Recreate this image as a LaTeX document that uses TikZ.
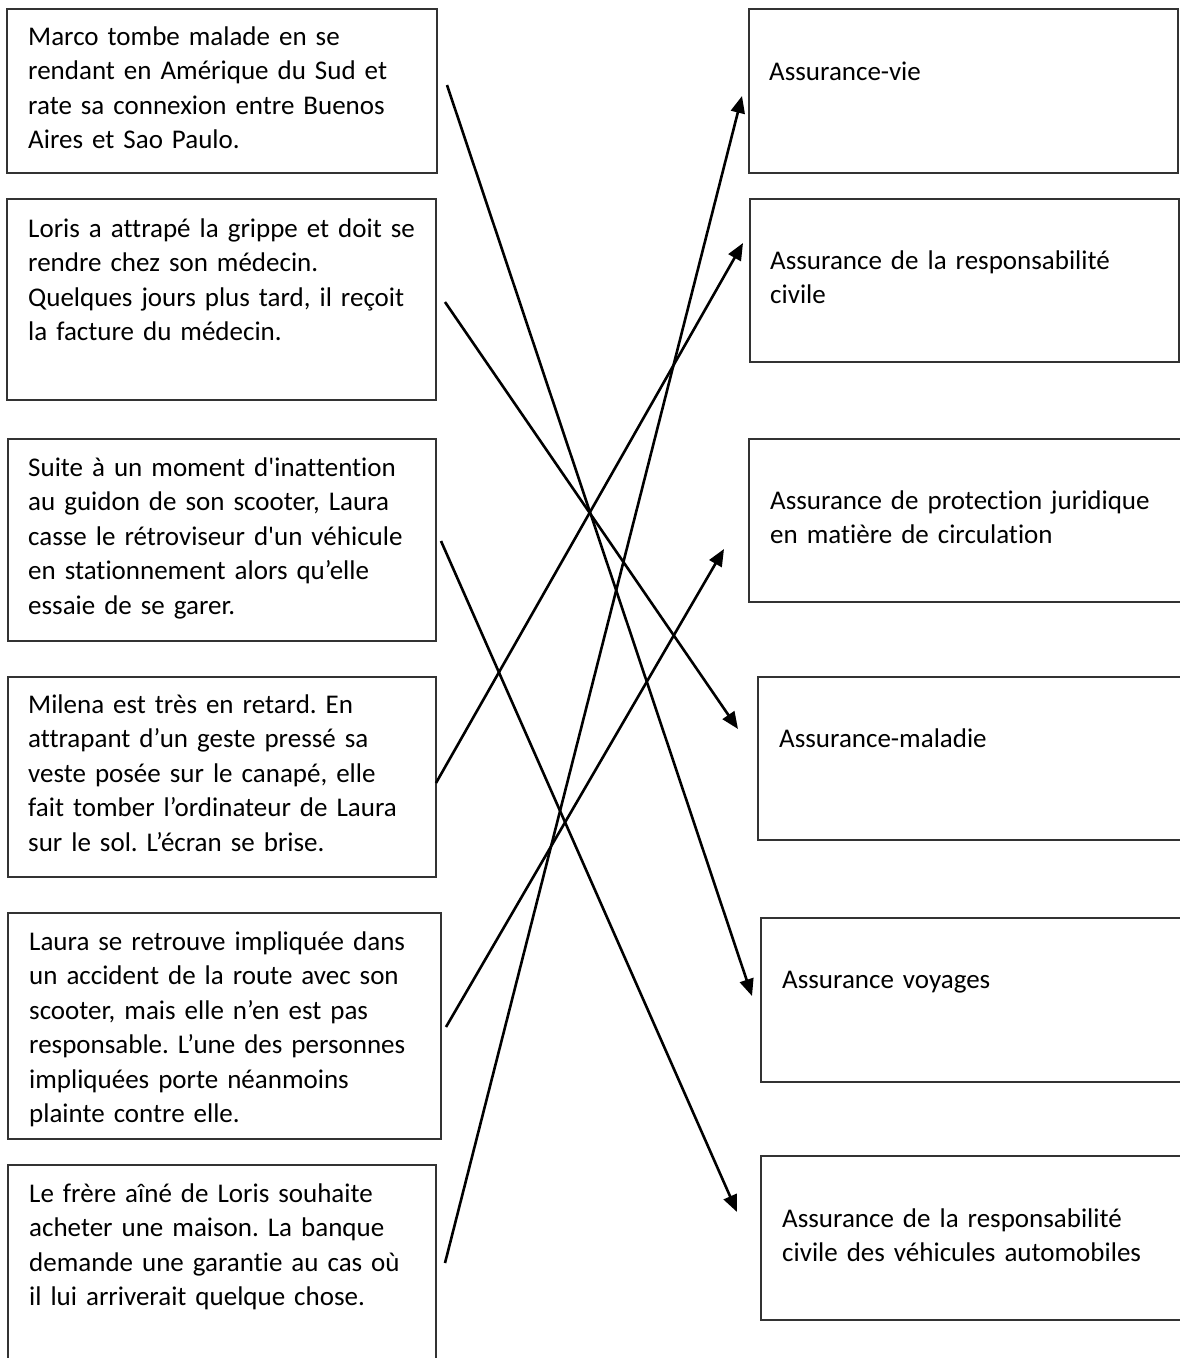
\documentclass[tikz,border=0pt]{standalone}
\usepackage{fontspec}
\setmainfont{Carlito}[Ligatures={TeXOff,NoCommon,NoContextual}]
\usetikzlibrary{arrows.meta}
\begin{document}
\frenchspacing
\begin{tikzpicture}[x=1pt,y=-1pt,
  box/.style={draw=black!80, line width=1.3pt, inner sep=0pt, fill=none},
  txt/.style={anchor=base west, inner sep=0pt, text width=#1, align=left,
    font=\fontsize{27}{34.5}\selectfont},
  txt/.default=430pt,
  conn/.style={draw=black, line width=2.6pt, -{Triangle[length=17pt,width=14pt]}}]
\useasboundingbox (0,0) rectangle (1180,1358);
\fill[white] (0,0) rectangle (1180,1358);
\clip (0,0) rectangle (1180,1358);
% left boxes
\node[box, minimum width=430pt, minimum height=164pt] (L1) at (222,91) {};
\node[box, minimum width=429pt, minimum height=201pt] (L2) at (221.5,299.5) {};
\node[box, minimum width=428pt, minimum height=202pt] (L3) at (222,540) {};
\node[box, minimum width=428pt, minimum height=200pt] (L4) at (222,777) {};
\node[box, minimum width=433pt, minimum height=226pt] (L5) at (224.5,1026) {};
\node[box, minimum width=428pt, minimum height=255pt] (L6) at (222,1292.5) {};
% right boxes
\node[box, minimum width=429pt, minimum height=164pt] (R1) at (963.5,91) {};
\node[box, minimum width=429pt, minimum height=163pt] (R2) at (964.5,280.5) {};
\node[box, minimum width=451pt, minimum height=163pt] (R3) at (974.5,520.5) {};
\node[box, minimum width=442pt, minimum height=163pt] (R4) at (979,758.5) {};
\node[box, minimum width=439pt, minimum height=164pt] (R5) at (980.5,1000) {};
\node[box, minimum width=439pt, minimum height=164pt] (R6) at (980.5,1238) {};
% left texts
\node[txt] (L1t) at (28,45) {Marco tombe malade en se\\rendant en Amérique du Sud et\\rate sa connexion entre Buenos\\Aires et Sao Paulo.};
\node[txt] (L2t) at (28,237) {Loris a attrapé la grippe et doit se\\rendre chez son médecin.\\Quelques jours plus tard, il reçoit\\la facture du médecin.};
\node[txt] (L3t) at (28,476) {Suite à un moment d'inattention\\au guidon de son scooter, Laura\\casse le rétroviseur d'un véhicule\\en stationnement alors qu’elle\\essaie de se garer.};
\node[txt] (L4t) at (28,713) {Milena est très en retard. En\\attrapant d’un geste pressé sa\\veste posée sur le canapé, elle\\fait tomber l’ordinateur de Laura\\sur le sol. L’écran se brise.};
\node[txt] (L5t) at (29,950) {Laura se retrouve impliquée dans\\un accident de la route avec son\\scooter, mais elle n’en est pas\\responsable. L’une des personnes\\impliquées porte néanmoins\\plainte contre elle.};
\node[txt] (L6t) at (29,1202) {Le frère aîné de Loris souhaite\\acheter une maison. La banque\\demande une garantie au cas où\\il lui arriverait quelque chose.};
% right texts
\node[txt] (R1t) at (769,80) {Assurance-vie};
\node[txt] (R2t) at (770,269) {Assurance de la responsabilité\\civile};
\node[txt] (R3t) at (770,509) {Assurance de protection juridique\\en matière de circulation};
\node[txt] (R4t) at (779,747) {Assurance-maladie};
\node[txt] (R5t) at (782,988) {Assurance voyages};
\node[txt] (R6t) at (782,1227) {Assurance de la responsabilité\\civile des véhicules automobiles};
% connector ends
\coordinate (a1s) at (447,85);   \coordinate (a1e) at (752,996);
\coordinate (a2s) at (445,302);  \coordinate (a2e) at (738,729);
\coordinate (a3s) at (441,541);  \coordinate (a3e) at (737,1212);
\coordinate (a4s) at (436,783);  \coordinate (a4e) at (743,243);
\coordinate (a5s) at (446,1027); \coordinate (a5e) at (724,549);
\coordinate (a6s) at (445,1263); \coordinate (a6e) at (742,96);
\draw[conn] (a1s) -- (a1e);
\draw[conn] (a2s) -- (a2e);
\draw[conn] (a3s) -- (a3e);
\draw[conn] (a4s) -- (a4e);
\draw[conn] (a5s) -- (a5e);
\draw[conn] (a6s) -- (a6e);
\end{tikzpicture}
\end{document}
